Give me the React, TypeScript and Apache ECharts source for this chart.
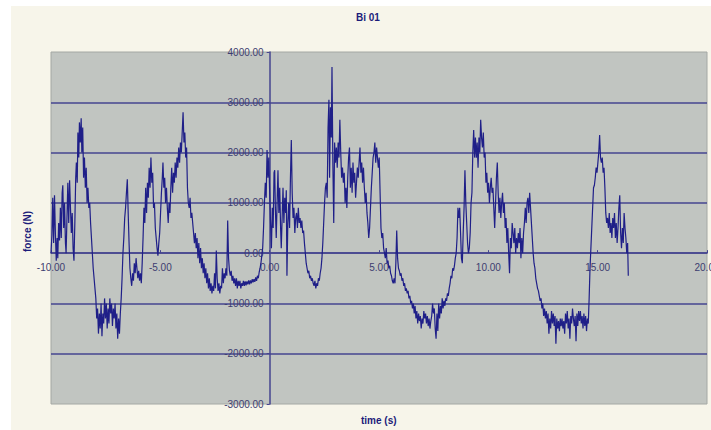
import React, { useEffect, useRef } from "react";
import * as echarts from "echarts";

const chartTitle = "Bi 01";
const xAxisName = "time (s)";
const yAxisName = "force (N)";
const xTicks = [-10, -5, 0, 5, 10, 15, 20];
const yTicks = [-3000, -2000, -1000, 0, 1000, 2000, 3000, 4000];

// [time (s), force (N)]
const cycle1: [number, number][] = [
  [-10.0, 0], [-9.96, 350], [-9.92, 1100], [-9.88, 200], [-9.84, 1150], [-9.8, 400], [-9.76, -150],
  [-9.72, 300], [-9.69, -100], [-9.65, 600], [-9.61, 250], [-9.57, 900], [-9.53, 300], [-9.49, 1200],
  [-9.46, 1350], [-9.42, 500], [-9.38, 1000], [-9.34, 200], [-9.31, 0], [-9.27, 700], [-9.23, 1400],
  [-9.19, 600], [-9.15, 1450], [-9.11, 900], [-9.07, 400], [-9.03, 800], [-8.99, 100], [-8.95, -150],
  [-8.91, 600], [-8.87, 1500], [-8.84, 1800], [-8.8, 1400], [-8.77, 2400], [-8.73, 1900], [-8.7, 2600],
  [-8.66, 2200], [-8.62, 2680], [-8.59, 2000], [-8.55, 2500], [-8.51, 1500], [-8.47, 1900], [-8.43, 1300],
  [-8.39, 1700], [-8.35, 1000], [-8.31, 1300], [-8.27, 900], [-8.23, 1000], [-8.19, 600], [-8.15, 300],
  [-8.11, 0], [-8.07, -300], [-8.03, -500], [-7.99, -700], [-7.95, -900], [-7.91, -1300], [-7.87, -1100],
  [-7.83, -1600], [-7.79, -1200], [-7.75, -1500], [-7.71, -1000], [-7.67, -1650], [-7.63, -1200],
  [-7.59, -1400], [-7.55, -900], [-7.51, -1300], [-7.47, -1000], [-7.43, -1500], [-7.39, -1100],
  [-7.35, -1400], [-7.31, -900], [-7.27, -1200], [-7.23, -1000], [-7.19, -1450], [-7.15, -1100],
  [-7.11, -1300], [-7.07, -1000], [-7.03, -1500], [-6.99, -1200], [-6.95, -1700], [-6.91, -1300],
  [-6.87, -1600], [-6.83, -1200], [-6.79, -900], [-6.75, -500], [-6.71, 0], [-6.67, 300], [-6.63, 700],
  [-6.59, 900], [-6.55, 1200], [-6.51, 1470], [-6.47, 800], [-6.43, 200], [-6.39, -300], [-6.35, -500],
  [-6.31, -650], [-6.27, -400], [-6.23, -550], [-6.19, -200], [-6.15, -400], [-6.11, -100], [-6.07, -300],
  [-6.03, -500], [-5.99, -350], [-5.95, -550], [-5.91, -400], [-5.87, -600], [-5.83, -200], [-5.79, 300],
  [-5.75, 900], [-5.71, 600], [-5.67, 1300], [-5.63, 800], [-5.59, 1400], [-5.55, 1100], [-5.51, 1700],
  [-5.47, 1300], [-5.43, 1900], [-5.39, 1400], [-5.35, 1600], [-5.31, 900], [-5.27, 1000], [-5.23, 500],
  [-5.19, 300], [-5.15, 100], [-5.11, -50], [-5.07, 200], [-5.03, 400], [-4.99, 800], [-4.95, 1200],
  [-4.91, 1500], [-4.88, 1800], [-4.84, 1300], [-4.8, 1500], [-4.76, 1000], [-4.72, 1300], [-4.68, 900],
  [-4.64, 600], [-4.6, 1000], [-4.56, 800], [-4.52, 1300], [-4.48, 1700], [-4.44, 1200], [-4.4, 1600],
  [-4.36, 1400], [-4.32, 1800], [-4.28, 1500], [-4.24, 1900], [-4.2, 1700], [-4.16, 2100], [-4.12, 1800],
  [-4.08, 2200], [-4.04, 2000], [-4.0, 2400], [-3.96, 2800], [-3.92, 2200], [-3.88, 2400], [-3.84, 1900],
  [-3.8, 2100], [-3.76, 1300], [-3.72, 1000], [-3.68, 900], [-3.64, 1100], [-3.6, 700], [-3.56, 800],
  [-3.52, 600], [-3.48, 400], [-3.44, 200], [-3.4, 400], [-3.36, 100], [-3.32, 300], [-3.28, -100],
  [-3.24, 200], [-3.2, -200], [-3.16, 100], [-3.12, -300], [-3.08, -100], [-3.04, -400], [-3.0, -200],
  [-2.96, -500], [-2.92, -300], [-2.88, -600], [-2.84, -400], [-2.8, -700], [-2.76, -500],
];

const cycle2: [number, number][] = [
  [-2.72, -750], [-2.68, -600], [-2.64, -800], [-2.6, -650], [-2.56, -750], [-2.52, -400], [-2.48, -700],
  [-2.44, 50], [-2.4, -500], [-2.36, -750], [-2.32, -600], [-2.28, -800], [-2.24, -650], [-2.2, -700],
  [-2.16, -300], [-2.12, -600], [-2.08, -400], [-2.04, -500], [-2.0, -300], [-1.96, -450], [-1.92, 650],
  [-1.88, -100], [-1.84, -350], [-1.8, -450], [-1.76, -350], [-1.72, -550], [-1.68, -450], [-1.64, -600],
  [-1.6, -500], [-1.56, -650], [-1.52, -500], [-1.48, -700], [-1.44, -550], [-1.4, -650], [-1.36, -550],
  [-1.32, -700], [-1.28, -600], [-1.24, -650], [-1.2, -550], [-1.16, -650], [-1.12, -560], [-1.08, -640],
  [-1.04, -560], [-1.0, -620], [-0.96, -540], [-0.92, -620], [-0.88, -540], [-0.84, -600], [-0.8, -520],
  [-0.76, -580], [-0.72, -520], [-0.68, -570], [-0.64, -480], [-0.6, -550], [-0.56, -450], [-0.52, -500],
  [-0.48, -380], [-0.44, -300], [-0.4, -200], [-0.36, -50], [-0.32, 100], [-0.28, 500], [-0.24, 1000],
  [-0.2, 1400], [-0.16, 1100], [-0.12, 2050], [-0.08, 1500], [-0.04, 1900], [0.0, 1200], [0.04, 600],
  [0.08, 100], [0.12, 900], [0.16, 500], [0.2, 1600], [0.23, 1650], [0.26, 900], [0.3, 300], [0.34, 1000],
  [0.38, 1650], [0.42, 800], [0.46, 1300], [0.5, 500], [0.53, 100], [0.57, 700], [0.61, 1300], [0.65, 600],
  [0.69, 1100], [0.73, 800], [0.76, 1250], [0.79, -450], [0.83, 600], [0.87, 1000], [0.91, 500],
  [0.95, 1500], [0.99, 2250], [1.03, 1200], [1.07, 700], [1.11, 900], [1.15, 400], [1.19, 700],
  [1.23, 800], [1.27, 500], [1.31, 900], [1.35, 600], [1.39, 700], [1.43, 500], [1.47, 650], [1.51, 400],
  [1.55, 450], [1.59, 200], [1.63, 0], [1.67, -200], [1.71, -300], [1.75, -400], [1.79, -350], [1.83, -500],
  [1.87, -450], [1.91, -550], [1.95, -500], [1.99, -600], [2.03, -650], [2.07, -550], [2.11, -700],
  [2.15, -600], [2.19, -650], [2.23, -500], [2.27, -550], [2.31, -400], [2.35, -300], [2.39, -100],
  [2.43, 200], [2.47, 600], [2.51, 1000], [2.55, 1300], [2.59, 1400], [2.63, 1100], [2.67, 2500],
  [2.71, 3050], [2.74, 1500], [2.78, 2900], [2.82, 2300], [2.85, 3700], [2.89, 1800], [2.93, 600],
  [2.97, 2200], [3.01, 1800], [3.05, 2100], [3.09, 1700], [3.13, 2200], [3.17, 1900], [3.21, 2650],
  [3.25, 2000], [3.29, 1500], [3.33, 1700], [3.37, 1400], [3.41, 1600], [3.45, 1000], [3.49, 1300],
  [3.53, 900], [3.57, 1500], [3.61, 1900], [3.65, 2100], [3.69, 1300], [3.73, 1700], [3.77, 1200],
  [3.81, 1800], [3.85, 1400], [3.89, 1600], [3.93, 1100], [3.97, 1400], [4.01, 1700], [4.05, 1500],
  [4.09, 1800], [4.13, 2100], [4.17, 1600], [4.21, 1800], [4.25, 1400], [4.29, 1700], [4.33, 1300],
  [4.37, 1000], [4.41, 1200], [4.45, 800], [4.49, 600], [4.53, 300], [4.57, 500], [4.61, 900],
  [4.65, 1300], [4.69, 1600], [4.73, 1900], [4.77, 2000], [4.81, 2200], [4.85, 1800], [4.89, 2100],
  [4.93, 1900], [4.97, 1700], [5.01, 1900],
];

const cycle3: [number, number][] = [
  [5.05, 1200], [5.09, 500], [5.13, 300], [5.17, 400], [5.21, 100], [5.25, 0], [5.29, -100], [5.33, 100],
  [5.37, -200], [5.41, -150], [5.45, -300], [5.49, -250], [5.53, -400], [5.57, -450], [5.61, -550],
  [5.65, -600], [5.69, -500], [5.73, -600], [5.77, -200], [5.81, 450], [5.85, -100], [5.89, -300],
  [5.93, -350], [5.97, -450], [6.01, -400], [6.05, -550], [6.09, -500], [6.13, -650], [6.17, -600],
  [6.21, -750], [6.25, -700], [6.29, -800], [6.33, -750], [6.37, -900], [6.41, -850], [6.45, -1000],
  [6.49, -950], [6.53, -1100], [6.57, -1000], [6.61, -1200], [6.65, -1050], [6.69, -1300], [6.73, -1150],
  [6.77, -1400], [6.81, -1200], [6.85, -1350], [6.89, -1250], [6.93, -1500], [6.97, -1300], [7.01, -1400],
  [7.05, -1150], [7.09, -1300], [7.13, -1200], [7.17, -1400], [7.21, -1250], [7.25, -1450], [7.29, -1300],
  [7.33, -1500], [7.37, -1350], [7.41, -1250], [7.45, -1000], [7.49, -1200], [7.53, -1100], [7.57, -1500],
  [7.61, -1700], [7.65, -1200], [7.69, -1550], [7.73, -1000], [7.77, -1300], [7.81, -1050], [7.85, -1200],
  [7.89, -900], [7.93, -1100], [7.97, -950], [8.01, -1050], [8.05, -900], [8.09, -950], [8.13, -800],
  [8.17, -850], [8.21, -700], [8.25, -600], [8.29, -450], [8.33, -500], [8.37, -300], [8.41, -350],
  [8.45, -250], [8.49, -100], [8.53, 0], [8.57, 300], [8.61, 900], [8.65, 700], [8.69, 900], [8.73, 400],
  [8.77, -100], [8.81, -200], [8.85, 400], [8.89, 900], [8.93, 1650], [8.97, 1000], [9.01, 600],
  [9.05, 200], [9.09, 0], [9.13, 100], [9.17, 400], [9.21, 1000], [9.25, 1200], [9.29, 2000], [9.33, 2450],
  [9.37, 1900], [9.41, 2300], [9.45, 1900], [9.49, 2200], [9.53, 1700], [9.57, 2300], [9.61, 2000],
  [9.65, 2650], [9.69, 2300], [9.73, 2100], [9.77, 2400], [9.81, 1900], [9.85, 2000], [9.89, 1400],
  [9.93, 1600], [9.97, 1200], [10.01, 1400], [10.05, 1000], [10.09, 1300], [10.13, 1500], [10.17, 1200],
  [10.21, 1300], [10.25, 900], [10.29, 500], [10.33, 1000], [10.37, 1500], [10.41, 1800], [10.45, 1200],
  [10.49, 800], [10.53, 1100], [10.57, 700], [10.61, 1000], [10.65, 1200], [10.69, 800], [10.73, 1000],
  [10.77, 500], [10.81, 700], [10.85, 200], [10.89, 500], [10.93, 0], [10.97, -400], [11.01, 300],
  [11.05, 100], [11.09, 600], [11.13, 400], [11.17, 200], [11.21, 500], [11.25, 0], [11.29, 300],
  [11.33, 100], [11.37, 400], [11.41, 200], [11.45, 500], [11.49, -100], [11.53, 300], [11.57, 0],
  [11.61, 400], [11.65, 600], [11.69, 900], [11.73, 600], [11.77, 1000], [11.81, 1100], [11.85, 800],
  [11.89, 1200], [11.93, 900], [11.97, 600], [12.01, 300], [12.05, 0],
];

const cycle4: [number, number][] = [
  [12.09, -200], [12.13, -300], [12.17, -500], [12.21, -600], [12.25, -700], [12.29, -750], [12.33, -850],
  [12.37, -950], [12.41, -900], [12.45, -1100], [12.49, -1000], [12.53, -1250], [12.57, -1100],
  [12.61, -1300], [12.65, -1150], [12.69, -1400], [12.73, -1200], [12.77, -1600], [12.81, -1300],
  [12.85, -1500], [12.89, -1150], [12.93, -1400], [12.97, -1200], [13.01, -1450], [13.05, -1250],
  [13.09, -1800], [13.13, -1300], [13.17, -1500], [13.21, -1350], [13.25, -1550], [13.29, -1300],
  [13.33, -1450], [13.37, -1300], [13.41, -1500], [13.45, -1350], [13.49, -1600], [13.53, -1200],
  [13.57, -1400], [13.61, -1150], [13.65, -1500], [13.69, -1300], [13.73, -1700], [13.77, -1250],
  [13.81, -1400], [13.85, -1100], [13.89, -1300], [13.93, -1450], [13.97, -1250], [14.01, -1750],
  [14.05, -1200], [14.09, -1450], [14.13, -1150], [14.17, -1350], [14.21, -1150], [14.25, -1400],
  [14.29, -1250], [14.33, -1500], [14.37, -1200], [14.41, -1450], [14.45, -1250], [14.49, -1550],
  [14.53, -1300], [14.57, -1400], [14.61, -900], [14.65, -300], [14.69, 100], [14.73, 500], [14.77, 900],
  [14.81, 1300], [14.85, 1350], [14.89, 1500], [14.93, 1700], [14.97, 1600], [15.01, 1800], [15.05, 2000],
  [15.09, 2350], [15.13, 1900], [15.17, 1800], [15.21, 1900], [15.25, 1600], [15.29, 1700], [15.33, 1300],
  [15.37, 800], [15.41, 600], [15.45, 700], [15.49, 500], [15.53, 800], [15.57, 400], [15.61, 600],
  [15.65, 300], [15.69, 700], [15.73, 500], [15.77, 800], [15.81, 300], [15.85, 600], [15.89, 200],
  [15.93, 500], [15.97, 900], [16.01, 1150], [16.05, 400], [16.09, 100], [16.13, 500], [16.17, 200],
  [16.21, 800], [16.25, 500], [16.29, 300], [16.33, 0], [16.37, 200], [16.4, -450],
];

const NAVY = "#1f1f88";
const GRID = "#45458f";
const LABEL = "#3d3d70";

const GRID_LEFT = 51;
const GRID_TOP = 52;
const GRID_RIGHT = 4;
const GRID_BOTTOM = 26;
const W = 711;
const H = 430;

export default function App() {
  const ref = useRef<HTMLDivElement>(null);

  useEffect(() => {
    if (!ref.current) return;
    const chart = echarts.init(ref.current, null, { renderer: "svg" });
    const samples = [...cycle1, ...cycle2, ...cycle3, ...cycle4];

    const xMin = xTicks[0];
    const xMax = xTicks[xTicks.length - 1];
    const yMin = yTicks[0];
    const yMax = yTicks[yTicks.length - 1];
    const plotW = W - GRID_LEFT - GRID_RIGHT;
    const plotH = H - GRID_TOP - GRID_BOTTOM;
    // shift each axis onto the other axis's zero
    const yAxisOffset = -((0 - xMin) / (xMax - xMin)) * plotW;
    const xAxisOffset = -((0 - yMin) / (yMax - yMin)) * plotH;

    const font = "'Liberation Sans', Arial, sans-serif";

    chart.setOption({
      animation: false,
      backgroundColor: "#ffffff",
      graphic: [
        {
          type: "rect",
          z: -100,
          silent: true,
          shape: { x: 11, y: 6, width: 700, height: 424 },
          style: { fill: "#f7f5ea" },
        },
        {
          type: "text",
          left: 356,
          top: 12,
          style: { text: chartTitle, fill: "#1c1c7a", font: `bold 10px ${font}` },
        },
        {
          type: "text",
          left: 361,
          top: 415,
          style: { text: xAxisName, fill: "#1c1c7a", font: `bold 10px ${font}` },
        },
        {
          type: "text",
          x: 22,
          y: 252,
          rotation: Math.PI / 2,
          style: { text: yAxisName, fill: "#1c1c7a", font: `bold 10px ${font}` },
        },
      ],
      grid: {
        left: GRID_LEFT,
        top: GRID_TOP,
        right: GRID_RIGHT,
        bottom: GRID_BOTTOM,
        show: true,
        backgroundColor: "#c1c5c1",
        borderColor: "#a4a8a4",
        borderWidth: 1,
        containLabel: false,
        outerBoundsMode: "none",
      },
      xAxis: {
        type: "value",
        min: xMin,
        max: xMax,
        interval: 5,
        offset: xAxisOffset,
        axisLine: { show: true, onZero: false, lineStyle: { color: GRID, width: 1.5 } },
        axisTick: { show: true, inside: true, length: 3, lineStyle: { color: GRID } },
        axisLabel: {
          margin: 9,
          color: LABEL,
          fontSize: 10,
          fontFamily: font,
          formatter: (v: number) => v.toFixed(2),
        },
        splitLine: { show: false },
      },
      yAxis: {
        type: "value",
        min: yMin,
        max: yMax,
        interval: 1000,
        offset: yAxisOffset,
        axisLine: { show: true, onZero: false, lineStyle: { color: GRID, width: 1.5 } },
        axisTick: { show: true, length: 3, lineStyle: { color: GRID } },
        axisLabel: {
          margin: 6,
          color: LABEL,
          fontSize: 10,
          fontFamily: font,
          formatter: (v: number) => v.toFixed(2),
        },
        splitLine: {
          show: true,
          showMinLine: false,
          showMaxLine: false,
          lineStyle: { color: GRID, width: 1.5 },
        },
      },
      series: [
        {
          type: "line",
          data: samples,
          showSymbol: false,
          symbol: "none",
          lineStyle: { color: NAVY, width: 1.2 },
          z: 3,
        },
      ],
    });
    return () => chart.dispose();
  }, []);

  return (
    <div
      ref={ref}
      style={{ position: "fixed", left: 0, top: 0, width: W, height: H }}
    />
  );
}
